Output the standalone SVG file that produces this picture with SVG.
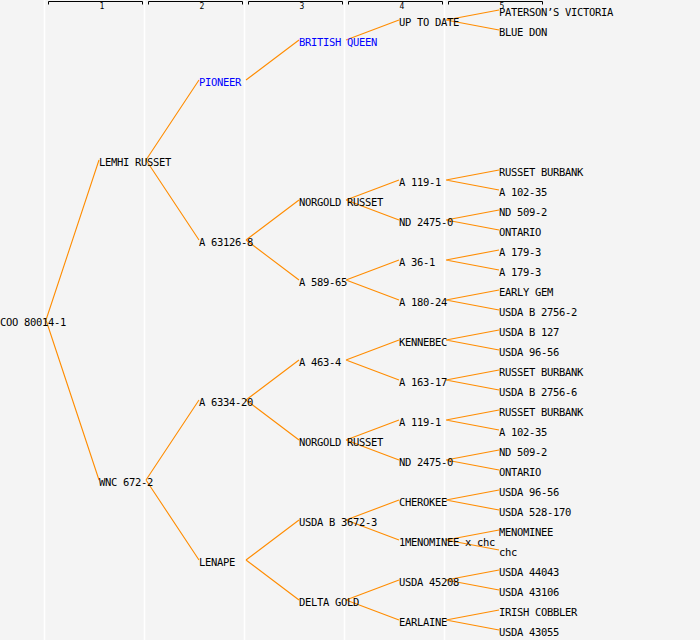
<svg xmlns="http://www.w3.org/2000/svg" width="700" height="640" viewBox="0 0 700 640">
<style>
.bg{fill:#f4f4f4}
.col{stroke:#ffffff;stroke-width:1.5}
.br{fill:none;stroke:#000000;stroke-width:1}
.num{font-family:"DejaVu Sans Mono","Liberation Mono",monospace;font-size:8px;fill:#000000;text-anchor:middle}
.lbl{font-family:"DejaVu Sans Mono","Liberation Mono",monospace;font-size:10.5px;letter-spacing:-0.32px;fill:#000000}
.blue{fill:#0000ff}
.con path{fill:none;stroke:#ff8c00;stroke-width:1.1}
</style>
<rect class="bg" x="0" y="0" width="700" height="640"/>
<g id="grid">
<line class="col" x1="44.5" y1="0" x2="44.5" y2="640"/>
<line class="col" x1="144.5" y1="0" x2="144.5" y2="640"/>
<line class="col" x1="244.5" y1="0" x2="244.5" y2="640"/>
<line class="col" x1="344.5" y1="0" x2="344.5" y2="640"/>
<line class="col" x1="444.5" y1="0" x2="444.5" y2="640"/>
</g>
<g id="headers">
<path class="br" d="M48.5 4.5V1.5H142.5V4.5"/>
<path class="br" d="M148.5 4.5V1.5H242.5V4.5"/>
<path class="br" d="M248.5 4.5V1.5H342.5V4.5"/>
<path class="br" d="M348.5 4.5V1.5H442.5V4.5"/>
<path class="br" d="M448.5 4.5V1.5H542.5V4.5"/>
<text class="num" x="102" y="9">1</text>
<text class="num" x="202" y="9">2</text>
<text class="num" x="302" y="9">3</text>
<text class="num" x="402" y="9">4</text>
<text class="num" x="502" y="9">5</text>
</g>
<g id="connectors" class="con">
<path d="M46 320L99 160M46 320L99 480"/>
<path d="M146 160L199 80M146 160L199 240M146 480L199 400M146 480L199 560"/>
<path d="M246 80L299 40M246 240L299 200M246 240L299 280M246 400L299 360M246 400L299 440M246 560L299 520M246 560L299 600"/>
<path d="M346 40L399 20M346 200L399 180M346 200L399 220M346 280L399 260M346 280L399 300M346 360L399 340M346 360L399 380M346 440L399 420M346 440L399 460M346 520L399 500M346 520L399 540M346 600L399 580M346 600L399 620"/>
<path d="M446 20L499 10M446 20L499 30M446 180L499 170M446 180L499 190M446 220L499 210M446 220L499 230M446 260L499 250M446 260L499 270M446 300L499 290M446 300L499 310M446 340L499 330M446 340L499 350M446 380L499 370M446 380L499 390M446 420L499 410M446 420L499 430M446 460L499 450M446 460L499 470M446 500L499 490M446 500L499 510M446 540L499 530M446 540L499 550M446 580L499 570M446 580L499 590M446 620L499 610M446 620L499 630"/>
</g>
<g id="n0"><text class="lbl" x="0" y="326">COO 80014-1</text></g>
<g id="n1"><text class="lbl" x="99" y="166">LEMHI RUSSET</text></g>
<g id="n2"><text class="lbl" x="99" y="486">WNC 672-2</text></g>
<g id="n3"><text class="lbl blue" x="199" y="86">PIONEER</text></g>
<g id="n4"><text class="lbl" x="199" y="246">A 63126-8</text></g>
<g id="n5"><text class="lbl" x="199" y="406">A 6334-20</text></g>
<g id="n6"><text class="lbl" x="199" y="566">LENAPE</text></g>
<g id="n7"><text class="lbl blue" x="299" y="46">BRITISH QUEEN</text></g>
<g id="n8"><text class="lbl" x="299" y="206">NORGOLD RUSSET</text></g>
<g id="n9"><text class="lbl" x="299" y="286">A 589-65</text></g>
<g id="n10"><text class="lbl" x="299" y="366">A 463-4</text></g>
<g id="n11"><text class="lbl" x="299" y="446">NORGOLD RUSSET</text></g>
<g id="n12"><text class="lbl" x="299" y="526">USDA B 3672-3</text></g>
<g id="n13"><text class="lbl" x="299" y="606">DELTA GOLD</text></g>
<g id="n14"><text class="lbl" x="399" y="26">UP TO DATE</text></g>
<g id="n15"><text class="lbl" x="399" y="186">A 119-1</text></g>
<g id="n16"><text class="lbl" x="399" y="226">ND 2475-0</text></g>
<g id="n17"><text class="lbl" x="399" y="266">A 36-1</text></g>
<g id="n18"><text class="lbl" x="399" y="306">A 180-24</text></g>
<g id="n19"><text class="lbl" x="399" y="346">KENNEBEC</text></g>
<g id="n20"><text class="lbl" x="399" y="386">A 163-17</text></g>
<g id="n21"><text class="lbl" x="399" y="426">A 119-1</text></g>
<g id="n22"><text class="lbl" x="399" y="466">ND 2475-0</text></g>
<g id="n23"><text class="lbl" x="399" y="506">CHEROKEE</text></g>
<g id="n24"><text class="lbl" x="399" y="546">1MENOMINEE x chc</text></g>
<g id="n25"><text class="lbl" x="399" y="586">USDA 45208</text></g>
<g id="n26"><text class="lbl" x="399" y="626">EARLAINE</text></g>
<g id="n27"><text class="lbl" x="499" y="16">PATERSON’S VICTORIA</text></g>
<g id="n28"><text class="lbl" x="499" y="36">BLUE DON</text></g>
<g id="n29"><text class="lbl" x="499" y="176">RUSSET BURBANK</text></g>
<g id="n30"><text class="lbl" x="499" y="196">A 102-35</text></g>
<g id="n31"><text class="lbl" x="499" y="216">ND 509-2</text></g>
<g id="n32"><text class="lbl" x="499" y="236">ONTARIO</text></g>
<g id="n33"><text class="lbl" x="499" y="256">A 179-3</text></g>
<g id="n34"><text class="lbl" x="499" y="276">A 179-3</text></g>
<g id="n35"><text class="lbl" x="499" y="296">EARLY GEM</text></g>
<g id="n36"><text class="lbl" x="499" y="316">USDA B 2756-2</text></g>
<g id="n37"><text class="lbl" x="499" y="336">USDA B 127</text></g>
<g id="n38"><text class="lbl" x="499" y="356">USDA 96-56</text></g>
<g id="n39"><text class="lbl" x="499" y="376">RUSSET BURBANK</text></g>
<g id="n40"><text class="lbl" x="499" y="396">USDA B 2756-6</text></g>
<g id="n41"><text class="lbl" x="499" y="416">RUSSET BURBANK</text></g>
<g id="n42"><text class="lbl" x="499" y="436">A 102-35</text></g>
<g id="n43"><text class="lbl" x="499" y="456">ND 509-2</text></g>
<g id="n44"><text class="lbl" x="499" y="476">ONTARIO</text></g>
<g id="n45"><text class="lbl" x="499" y="496">USDA 96-56</text></g>
<g id="n46"><text class="lbl" x="499" y="516">USDA 528-170</text></g>
<g id="n47"><text class="lbl" x="499" y="536">MENOMINEE</text></g>
<g id="n48"><text class="lbl" x="499" y="556">chc</text></g>
<g id="n49"><text class="lbl" x="499" y="576">USDA 44043</text></g>
<g id="n50"><text class="lbl" x="499" y="596">USDA 43106</text></g>
<g id="n51"><text class="lbl" x="499" y="616">IRISH COBBLER</text></g>
<g id="n52"><text class="lbl" x="499" y="636">USDA 43055</text></g>
</svg>
